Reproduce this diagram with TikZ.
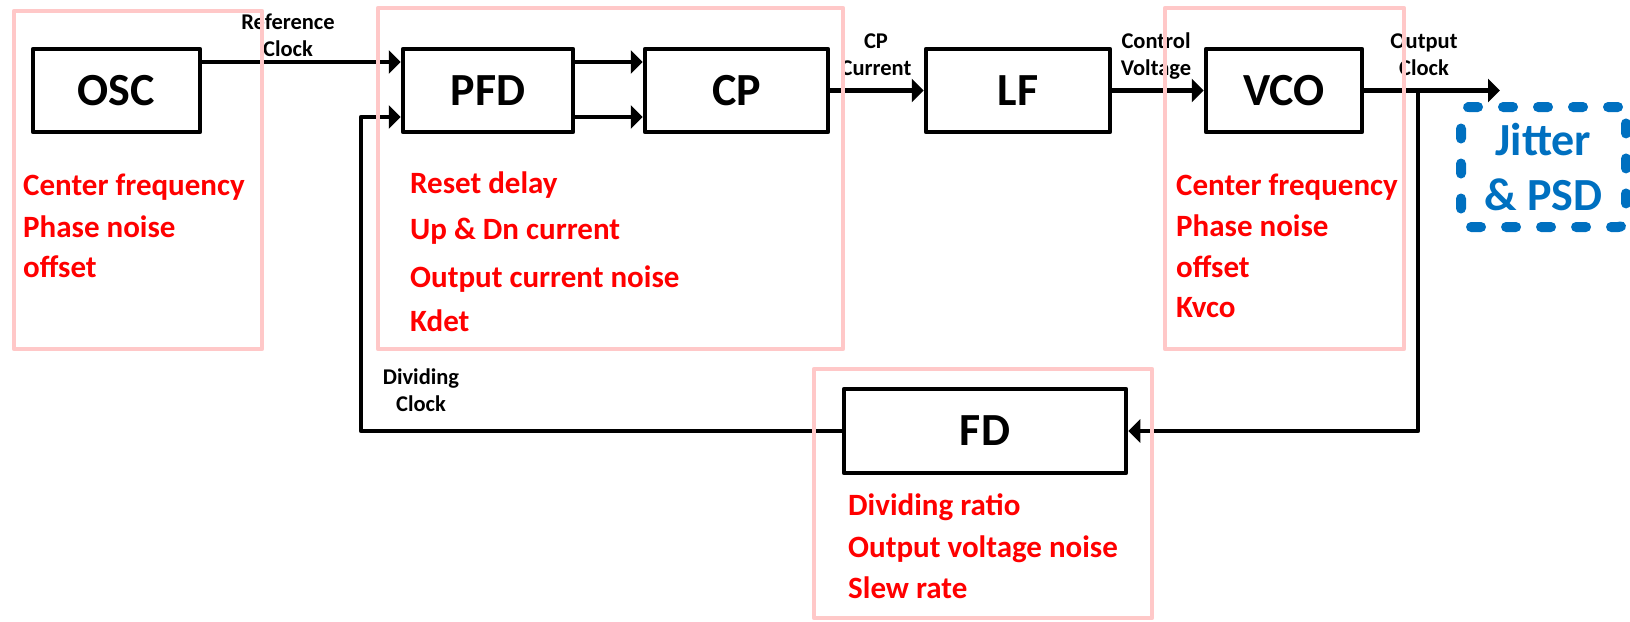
\documentclass[tikz,border=0pt]{standalone}
\usepackage{fontspec}
\setmainfont{Carlito}
\usetikzlibrary{arrows.meta}
\definecolor{pinkf}{RGB}{255,200,200}
\definecolor{jblue}{RGB}{0,112,192}
\definecolor{pred}{RGB}{255,0,0}
\begin{document}
\begin{tikzpicture}[x=1pt,y=-1pt,
  blk/.style={draw,line width=4.5pt,line join=round,minimum height=83pt,inner sep=0pt,font=\bfseries\fontsize{46}{52}\selectfont},
  arr/.style={line width=4.5pt,line join=round,-{Triangle[length=12pt,width=23pt]}},
  pinkframe/.style={draw=pinkf,line width=4.5pt,line join=round},
  prm/.style={anchor=base west,text=pred,inner sep=0pt,font=\bfseries\fontsize{31}{37}\selectfont},
  sig/.style={align=center,inner sep=0pt,font=\bfseries\fontsize{22.5}{27}\selectfont}]
\useasboundingbox (0,0) rectangle (1630,621);
% blocks
\node[blk,minimum width=167pt] (osc) at (116.5,90.5) {OSC};
\node[blk,minimum width=170pt] (pfd) at (488,90.5) {PFD};
\node[blk,minimum width=183pt] (cp) at (736.5,90.5) {CP};
\node[blk,minimum width=184pt] (lf) at (1018,90.5) {LF};
\node[blk,minimum width=156pt] (vco) at (1284,90.5) {VCO};
\node[blk,minimum width=282pt,minimum height=84pt] (fd) at (985,431) {FD};
\node[draw=jblue,line width=10pt,dash pattern=on 10pt off 25pt,line cap=round,rounded corners=8pt,
      minimum width=165pt,minimum height=120pt,inner sep=0pt,align=center,text=jblue,
      font=\bfseries\fontsize{46}{55}\selectfont] (jit) at (1543.5,167) {Jitter\\\& PSD};
% helper points
\coordinate (out) at (1500,90.5);
\coordinate (br) at (1418,90.5);
\coordinate (fbl) at (361,117);
% connectors
\draw[arr] ([yshift=28.5pt]osc.east) -- ([yshift=28.5pt]pfd.west);
\draw[arr] ([yshift=28.5pt]pfd.east) -- ([yshift=28.5pt]cp.west);
\draw[arr] ([yshift=-26.5pt]pfd.east) -- ([yshift=-26.5pt]cp.west);
\draw[arr] (cp.east) -- (lf.west);
\draw[arr] (lf.east) -- (vco.west);
\draw[arr] (vco.east) -- (out);
\draw[arr] (br) |- (fd.east);
\draw[arr] (fd.west) -| (fbl) -- ([yshift=-26.5pt]pfd.west);
% signal labels
\node[sig] (refl) at (288,35) {Reference\\Clock};
\node[sig] (cpl) at (876,55) {CP\\Current};
\node[sig] (cvl) at (1156,56) {Control\\Voltage};
\node[sig] (ocl) at (1424,55) {Output\\Clock};
\node[sig] (dcl) at (421,390) {Dividing\\Clock};
% parameters
\node[prm] (o1) at (23,195) {Center frequency};
\node[prm] (o2) at (23,237) {Phase noise};
\node[prm] (o3) at (23,277) {offset};
\node[prm] (p1) at (410,193) {Reset delay};
\node[prm] (p2) at (410,239) {Up \& Dn current};
\node[prm] (p3) at (410,287) {Output current noise};
\node[prm] (p4) at (410,331) {Kdet};
\node[prm] (v1) at (1176,195) {Center frequency};
\node[prm] (v2) at (1176,236) {Phase noise};
\node[prm] (v3) at (1176,277) {offset};
\node[prm] (v4) at (1176,317) {Kvco};
\node[prm] (f1) at (848,515) {Dividing ratio};
\node[prm] (f2) at (848,557) {Output voltage noise};
\node[prm] (f3) at (848,598) {Slew rate};
% pink frames
\draw[pinkframe] (14,11) rectangle (262,349);
\draw[pinkframe] (378,8) rectangle (843,349);
\draw[pinkframe] (1165,8) rectangle (1404,349);
\draw[pinkframe] (814,369) rectangle (1152,618);
\end{tikzpicture}
\end{document}
